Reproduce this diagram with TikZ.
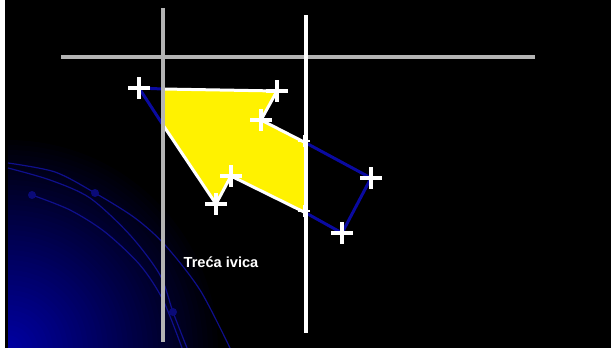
\documentclass[tikz,border=0pt]{standalone}
\usepackage{fontspec}
\setmainfont{Liberation Sans}
\usetikzlibrary{shapes.misc}
\definecolor{navy}{RGB}{10,10,160}
\definecolor{arcblue}{RGB}{15,15,140}
\definecolor{dotblue}{RGB}{10,10,120}
\definecolor{gridgrey}{RGB}{180,180,180}
\definecolor{cornerblue}{RGB}{0,0,165}
\tikzset{
  plusmark/.style={cross out, draw=white, rotate=45, minimum size=11.5pt, inner sep=0pt, line width=3.8pt},
  smallplus/.style={cross out, draw=white, rotate=45, minimum size=6.5pt, inner sep=0pt, line width=2pt},
  origedge/.style={draw=navy, line width=3pt},
  clipedge/.style={draw=white, line width=3pt, line join=miter},
  arcline/.style={draw=arcblue, line width=1.2pt},
  arcdot/.style={circle, fill=dotblue, minimum size=8pt, inner sep=0pt}
}
\begin{document}
\begin{tikzpicture}[x=1pt,y=-1pt]
\useasboundingbox (0,0) rectangle (611,348);
\fill[white] (0,0) rectangle (611,348);
\fill[black] (5,0) rectangle (611,348);
% corner glow
\begin{scope}
  \clip (8,0) rectangle (611,348);
  \foreach \r in {215,210,...,5} {
    \pgfmathsetmacro\pc{100*(1-\r/215)^0.95}
    \fill[cornerblue!\pc!black] (8,350) circle (\r);
  }
\end{scope}
% arcs
\draw[arcline] plot[smooth] coordinates {(8,163) (55,172) (95,193) (135,218) (165,245) (200,290) (230,348)};
\draw[arcline] plot[smooth] coordinates {(8,168) (50,180) (90,198) (130,235) (160,275) (173,312) (187,348)};
\draw[arcline] plot[smooth] coordinates {(32,195) (70,210) (105,232) (140,265) (163,300) (182,348)};
\node[arcdot] (d1) at (32,195) {};
\node[arcdot] (d2) at (95,193) {};
\node[arcdot] (d3) at (173,312) {};
% vertices
\coordinate (p1) at (139,88);
\coordinate (p2) at (277,91);
\coordinate (p3) at (261,120);
\coordinate (p4) at (371,178);
\coordinate (p5) at (342,233);
\coordinate (p6) at (231,176);
\coordinate (p7) at (216,204);
\coordinate (a1) at (163,89);
\coordinate (a2) at (163,125);
\coordinate (b1) at (306,143);
\coordinate (b2) at (306,213);
% original polygon outside parts
\draw[origedge] (a1) -- (p1) -- (a2);
\draw[origedge, line join=miter] (b1) -- (p4) -- (p5) -- (b2);
% clipped polygon
\fill[yellow] (a1) -- (p2) -- (p3) -- (b1) -- (b2) -- (p6) -- (p7) -- (a2) -- cycle;
\draw[clipedge] (a1) -- (p2) -- (p3) -- (b1);
\draw[clipedge] (b2) -- (p6) -- (p7) -- (a2);
% clip window lines
\coordinate (h1) at (61,57);
\coordinate (h2) at (535,57);
\coordinate (v1) at (163,8);
\coordinate (v2) at (163,342);
\coordinate (w1) at (306,15);
\coordinate (w2) at (306,333);
\draw[gridgrey, line width=3.5pt] (h1) -- (h2);
\draw[gridgrey, line width=3.5pt] (v1) -- (v2);
\draw[white, line width=3.5pt] (w1) -- (w2);
% markers
\foreach \p in {p1,p2,p3,p4,p5,p6,p7} \node[plusmark] at (\p) {};
\node[smallplus] (m1) at (304,141) {};
\node[smallplus] (m2) at (304,211) {};
% label
\node[text=white, font=\fontsize{14.6}{16}\selectfont\bfseries, inner sep=0pt] (lab) at (221,262) {Treća ivica};
\end{tikzpicture}
\end{document}
